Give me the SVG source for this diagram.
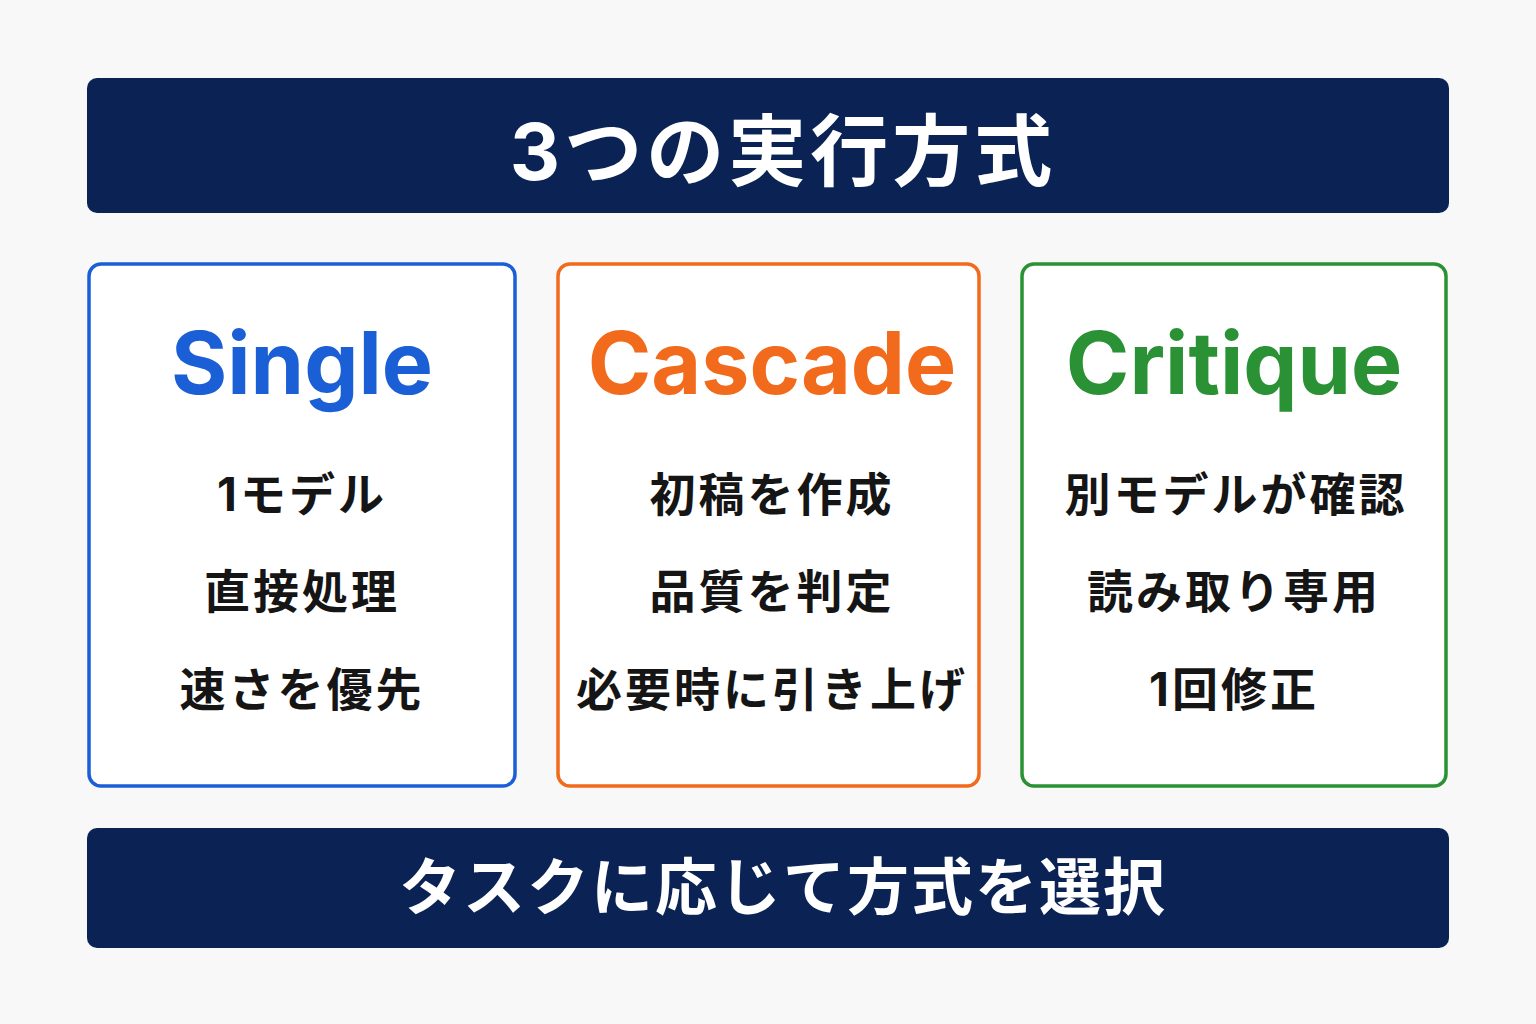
<svg xmlns="http://www.w3.org/2000/svg" width="1536" height="1024" viewBox="0 0 1536 1024">
<style>
.bar{fill:#0b2255}
.card{fill:#fff;stroke-width:3.5}
.t{font-family:"Inter","Liberation Sans","Noto Sans CJK JP",sans-serif;font-weight:700;text-anchor:middle}
.h{font-size:86px}
.i{font-size:46px;fill:#151515;letter-spacing:3px}
.w{fill:#fff}
</style>
<rect width="1536" height="1024" fill="#f8f8f8"/>
<g id="title"><rect class="bar" x="87" y="78" width="1362" height="135" rx="10"/>
<text class="t w" x="783" y="180" font-size="78" letter-spacing="4">3つの実行方式</text></g>
<g id="single"><rect class="card" x="89" y="264" width="426" height="522" rx="12" stroke="#1a5fd6"/>
<text class="t h" x="302" y="394" fill="#1a5fd6">Single</text>
<text class="t i" x="302" y="511">1モデル</text>
<text class="t i" x="302" y="608">直接処理</text>
<text class="t i" x="302" y="706">速さを優先</text></g>
<g id="cascade"><rect class="card" x="558" y="264" width="421" height="522" rx="12" stroke="#f26a1b"/>
<text class="t h" x="772" y="394" fill="#f26a1b">Cascade</text>
<text class="t i" x="772" y="511">初稿を作成</text>
<text class="t i" x="772" y="608">品質を判定</text>
<text class="t i" x="772" y="706">必要時に引き上げ</text></g>
<g id="critique"><rect class="card" x="1022" y="264" width="424" height="522" rx="12" stroke="#2a9234"/>
<text class="t h" x="1234" y="394" fill="#2a9234">Critique</text>
<text class="t i" x="1236" y="511">別モデルが確認</text>
<text class="t i" x="1234" y="608">読み取り専用</text>
<text class="t i" x="1234" y="706">1回修正</text></g>
<g id="footer"><rect class="bar" x="87" y="828" width="1362" height="120" rx="10"/>
<text class="t w" x="783" y="910" font-size="62" letter-spacing="2">タスクに応じて方式を選択</text></g>
<g id="connectors"/>
</svg>
